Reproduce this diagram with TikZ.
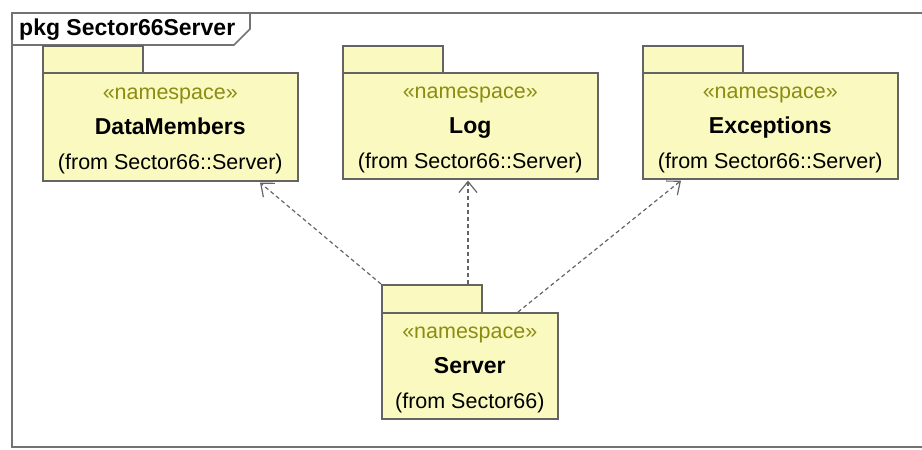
\documentclass[tikz,border=0pt]{standalone}
\usepackage{fontspec}
\setmainfont{Liberation Sans}
\usetikzlibrary{arrows.meta,calc}
\definecolor{pkgfill}{RGB}{250,250,192}
\definecolor{pkgline}{RGB}{100,100,100}
\definecolor{stereo}{RGB}{140,140,20}
\definecolor{frameline}{RGB}{115,115,115}
\tikzset{
  pkgbody/.style={draw=pkgline, line width=1.6pt, fill=pkgfill, inner sep=0pt, anchor=north west},
  pkgtext/.style={inner sep=0pt, align=center, font=\fontsize{21.5}{35}\selectfont},
  pkgtab/.style={draw=pkgline, line width=1.6pt, fill=pkgfill, inner sep=0pt, anchor=north west,
    minimum width=100pt, minimum height=28pt},
  dep/.style={draw=pkgline, line width=1.2pt, dash pattern=on 4pt off 3pt,
    -{Straight Barb[length=11pt,width=18pt,line width=1.2pt]}},
}
\newcommand{\stereotxt}{{\color{stereo}«namespace»}}
\newcommand{\pkgname}[1]{{\fontsize{23}{35}\selectfont\bfseries #1}}
\begin{document}
\begin{tikzpicture}[x=1pt,y=-1pt]
\useasboundingbox (0,0) rectangle (922,450);
\clip (0,0) rectangle (922,450);
% frame
\draw[frameline, line width=2pt] (12,13) rectangle (940,447);
\draw[frameline, line width=1.6pt, fill=white] (12,13) -- (250,13) -- (250,29) -- (234,45) -- (12,45) -- cycle;
\node[anchor=west, inner sep=0pt, font=\fontsize{23}{28}\selectfont\bfseries] (title) at (19,30) {pkg Sector66Server};
% packages
\node[pkgtab] (dmtab) at (42,45) {};
\node[pkgbody, minimum width=255pt, minimum height=108pt] (dm) at (42,72) {};
\node[pkgtext] (dmtxt) at ($(dm.center)+(0,4)$) {\stereotxt\\\pkgname{DataMembers}\\(from Sector66::Server)};
\node[pkgtab] (logtab) at (342,45) {};
\node[pkgbody, minimum width=255pt, minimum height=106pt] (log) at (342,72) {};
\node[pkgtext] (logtxt) at ($(log.center)+(0,4)$) {\stereotxt\\\pkgname{Log}\\(from Sector66::Server)};
\node[pkgtab] (exctab) at (642,45) {};
\node[pkgbody, minimum width=255pt, minimum height=106pt] (exc) at (642,72) {};
\node[pkgtext] (exctxt) at ($(exc.center)+(0,4)$) {\stereotxt\\\pkgname{Exceptions}\\(from Sector66::Server)};
\node[pkgtab] (srvtab) at (381,284) {};
\node[pkgbody, minimum width=176pt, minimum height=106pt] (srv) at (381,312) {};
\node[pkgtext] (srvtxt) at ($(srv.center)+(0,4)$) {\stereotxt\\\pkgname{Server}\\(from Sector66)};
% dependencies
\coordinate (dmend) at ($(dm.south west)+(218,1)$);
\coordinate (logend) at ($(log.south west)+(126,1)$);
\coordinate (excend) at ($(exc.south west)+(39,1)$);
\coordinate (srvlog) at ($(srvtab.north west)+(87,0)$);
\coordinate (srvexc) at ($(srv.north west)+(137,0)$);
\draw[dep] (srvtab.north west) -- (dmend);
\draw[dep] (srvlog) -- (logend);
\draw[dep] (srvexc) -- (excend);
\end{tikzpicture}
\end{document}
